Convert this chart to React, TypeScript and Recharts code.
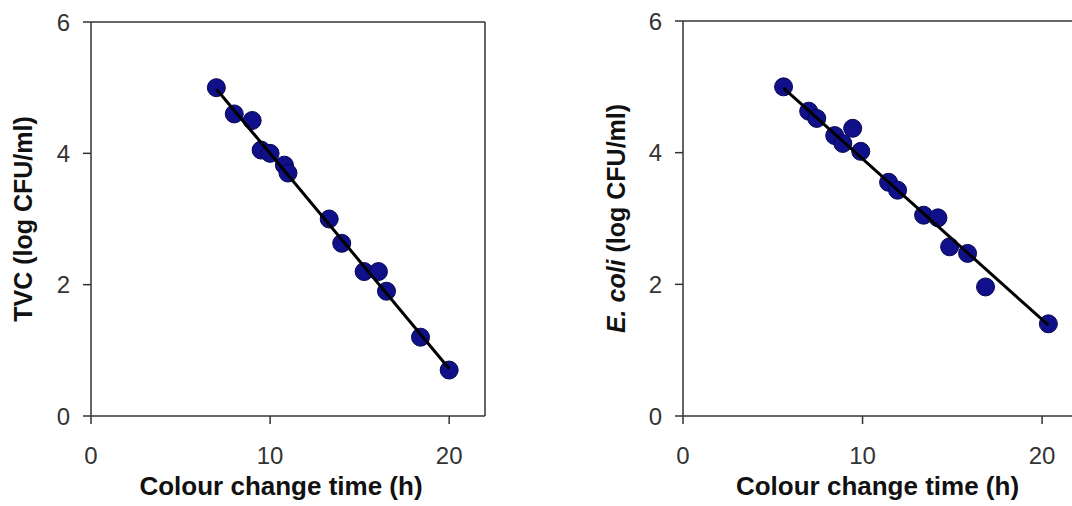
import React from "react";
import { ScatterChart, Scatter, XAxis, YAxis, ReferenceLine, Label } from "recharts";

// TVC panel (left)
const tvcTime = [7, 8, 9, 9.5, 10, 10.8, 11, 13.3, 14, 15.25, 16.05, 16.5, 18.4, 20];
const tvcLog = [5.0, 4.6, 4.5, 4.05, 4.0, 3.82, 3.7, 3.0, 2.63, 2.2, 2.2, 1.9, 1.2, 0.7];
const tvcFitTime = [7, 20];
const tvcFitLog = [4.98, 0.72];

// E. coli panel (right)
const ecoliTime = [5.6, 7.0, 7.45, 8.45, 8.9, 9.45, 9.9, 11.45, 11.95, 13.4, 14.2, 14.85, 15.85, 16.85, 20.35];
const ecoliLog = [5.0, 4.63, 4.52, 4.26, 4.14, 4.37, 4.02, 3.55, 3.43, 3.05, 3.01, 2.57, 2.47, 1.96, 1.4];
const ecoliFitTime = [5.6, 20.35];
const ecoliFitLog = [4.98, 1.38];

const xTicks = [0, 10, 20];
const yTicks = [0, 2, 4, 6];
const xTitle = "Colour change time (h)";

const FONT = "'Liberation Sans', Arial, Helvetica, sans-serif";
const AXIS = "#333";

const toPoints = (xs: number[], ys: number[]) => xs.map((x, i) => ({ x, y: ys[i] }));

const Dot = (props: any) => (
  <circle cx={props.cx} cy={props.cy} r={9} fill="#10108a" stroke="#06064f" strokeWidth={1} />
);
const NoDot = () => <g />;

const XTitle = ({ viewBox, shift }: any) => {
  const { x, width } = viewBox;
  return (
    <text x={x + width / 2 + shift} y={495} textAnchor="middle" fontSize={26} fontWeight="bold" fontFamily={FONT} fill="#111">
      {xTitle}
    </text>
  );
};

const YTitle = ({ viewBox, left, italic }: any) => {
  const cy = viewBox.y + viewBox.height / 2;
  return (
    <text x={left} y={cy} transform={`rotate(-90, ${left}, ${cy})`} textAnchor="middle" fontSize={25} fontWeight="bold" fontFamily={FONT} fill="#111">
      {italic && <tspan fontStyle="italic">{italic}</tspan>}
      {italic ? " (log CFU/ml)" : "TVC (log CFU/ml)"}
    </text>
  );
};

interface PanelProps {
  points: { x: number; y: number }[];
  fit: { x: number; y: number }[];
  top: number;
  right: number;
  shift: number;
  labelX: number;
  italic?: string;
}

const Panel = ({ points, fit, top, right, shift, labelX, italic }: PanelProps) => (
  <ScatterChart width={500} height={506} margin={{ top, right, bottom: 0, left: 0 }}>
    <XAxis
      type="number"
      dataKey="x"
      domain={[0, 22]}
      ticks={xTicks}
      height={90}
      tickSize={8}
      tickMargin={23}
      stroke={AXIS}
      strokeWidth={1.5}
      tick={{ fontSize: 24, fill: "#333", fontFamily: FONT }}
    >
      <Label content={<XTitle shift={shift} />} />
    </XAxis>
    <YAxis
      type="number"
      dataKey="y"
      domain={[0, 6]}
      ticks={yTicks}
      width={91}
      tickSize={8}
      tickMargin={13}
      stroke={AXIS}
      strokeWidth={1.5}
      tick={{ fontSize: 24, fill: "#333", fontFamily: FONT }}
    >
      <Label content={<YTitle left={labelX} italic={italic} />} />
    </YAxis>
    <ReferenceLine y={6} stroke={AXIS} strokeWidth={1.5} />
    <ReferenceLine x={22} stroke={AXIS} strokeWidth={1.5} />
    <Scatter data={points} shape={Dot} isAnimationActive={false} />
    <Scatter data={fit} shape={NoDot} line={{ stroke: "#000", strokeWidth: 3 }} isAnimationActive={false} />
  </ScatterChart>
);

export default function App() {
  return (
    <div style={{ position: "absolute", left: 0, top: 0, width: 1072, height: 506, overflow: "hidden", background: "#fff" }}>
      <div style={{ position: "absolute", left: 0, top: 0 }}>
        <Panel
          points={toPoints(tvcTime, tvcLog)}
          fit={toPoints(tvcFitTime, tvcFitLog)}
          top={22}
          right={15}
          shift={-7}
          labelX={32}
        />
      </div>
      <div style={{ position: "absolute", left: 592, top: 0 }}>
        <Panel
          points={toPoints(ecoliTime, ecoliLog)}
          fit={toPoints(ecoliFitTime, ecoliFitLog)}
          top={21}
          right={14}
          shift={-3}
          labelX={33}
          italic="E. coli"
        />
      </div>
    </div>
  );
}
